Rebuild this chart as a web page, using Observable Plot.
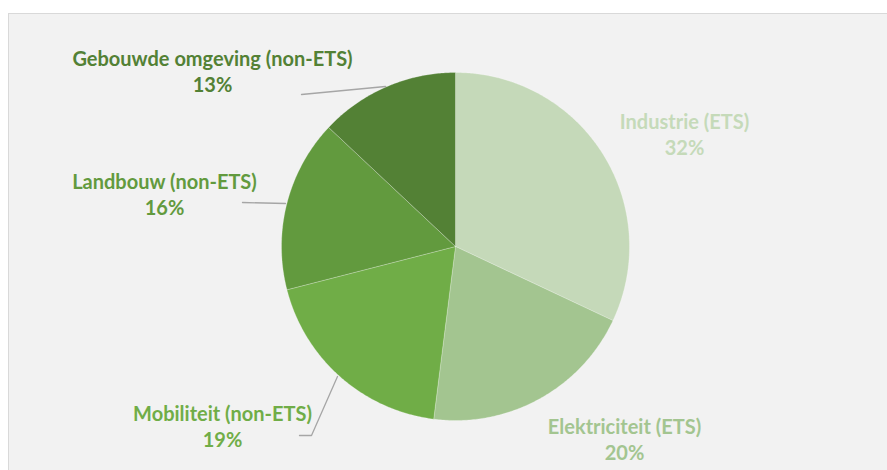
<!DOCTYPE html>
<html>
<head>
<meta charset="utf-8">
<script src="https://cdn.jsdelivr.net/npm/d3@7"></script>
<script src="https://cdn.jsdelivr.net/npm/@observablehq/plot@0.6"></script>
<style>
  html, body { margin: 0; padding: 0; background: #ffffff; overflow: hidden; }
  #wrap { position: relative; width: 887px; height: 470px; }
  #box { position: absolute; left: 8px; top: 13px; width: 900px; height: 480px;
         background: #f2f2f2; border: 1.5px solid #d9d9d9; box-sizing: border-box; }
  #chart { position: absolute; left: 0; top: 0; }
  #chart svg { background: transparent; }
</style>
</head>
<body>
<div id="wrap"><div id="box"></div><div id="chart"></div></div>
<script>
// ---- data ----
const categories = ["Industrie (ETS)", "Elektriciteit (ETS)", "Mobiliteit (non-ETS)", "Landbouw (non-ETS)", "Gebouwde omgeving (non-ETS)"];
const shares = [32, 20, 19, 16, 13];
const colors = ["#c5d9b9", "#a3c590", "#70ad47", "#629a3e", "#538135"];
const labelColors = ["#c5dab9", "#a3c590", "#70ad47", "#629a3e", "#538135"];

// ---- layout (label placement in pixels, leader lines) ----
const cx = 455, cy = 246, R = 174;
const toU = (px) => (px - cx) / R;
const toV = (py) => (cy - py) / R;
const labelPx = [[684, 133], [624, 438], [222, 425], [164, 193], [212, 70]];
const leaderPx = [null, null, [[337, 376], [311, 435], [299, 435]], [[285, 203], [242, 202]], [[385, 86], [301, 94]]];

// ---- geometry via d3.pie ----
const arcs = d3.pie().sort(null).value(d => d)(shares);
const slicePts = [];
arcs.forEach((a, i) => {
  slicePts.push({cat: categories[i], x: 0, y: 0});
  const n = Math.max(8, Math.ceil((a.endAngle - a.startAngle) / 0.01));
  for (let k = 0; k <= n; k++) {
    const t = a.startAngle + (a.endAngle - a.startAngle) * k / n;
    slicePts.push({cat: categories[i], x: Math.sin(t), y: Math.cos(t)});
  }
  slicePts.push({cat: categories[i], x: 0, y: 0});
});

const labels = categories.map((c, i) => ({
  cat: c, text: `${c}\n${shares[i]}%`, x: toU(labelPx[i][0]), y: toV(labelPx[i][1]), color: labelColors[i]
}));
const leaders = [];
leaderPx.forEach((pts, i) => {
  if (!pts) return;
  pts.forEach(p => leaders.push({cat: categories[i], x: toU(p[0]), y: toV(p[1])}));
});

const plot = Plot.plot({
  width: 887,
  height: 470,
  margin: 0,
  style: {background: "transparent", overflow: "visible"},
  x: {domain: [-1, 1], range: [cx - R, cx + R], axis: null},
  y: {domain: [-1, 1], range: [cy + R, cy - R], axis: null},
  color: {domain: categories, range: colors},
  marks: [
    Plot.line(slicePts, {
      x: "x", y: "y", z: "cat", fill: "cat",
      stroke: "#ffffff", strokeOpacity: 0.3, strokeWidth: 0.8, curve: "linear-closed",
      style: "filter: drop-shadow(0px 1px 2px rgba(0,0,0,0.18))"
    }),
    Plot.line(leaders, {x: "x", y: "y", z: "cat", stroke: "#a6a6a6", strokeWidth: 1.3}),
    Plot.text(labels, {
      x: "x", y: "y", text: "text", fill: "color",
      fontFamily: "Lato, 'Open Sans', sans-serif", fontWeight: "bold", fontSize: 20,
      lineHeight: 1.3, textAnchor: "middle", lineAnchor: "middle"
    })
  ]
});
document.getElementById("chart").appendChild(plot);
</script>
</body>
</html>
